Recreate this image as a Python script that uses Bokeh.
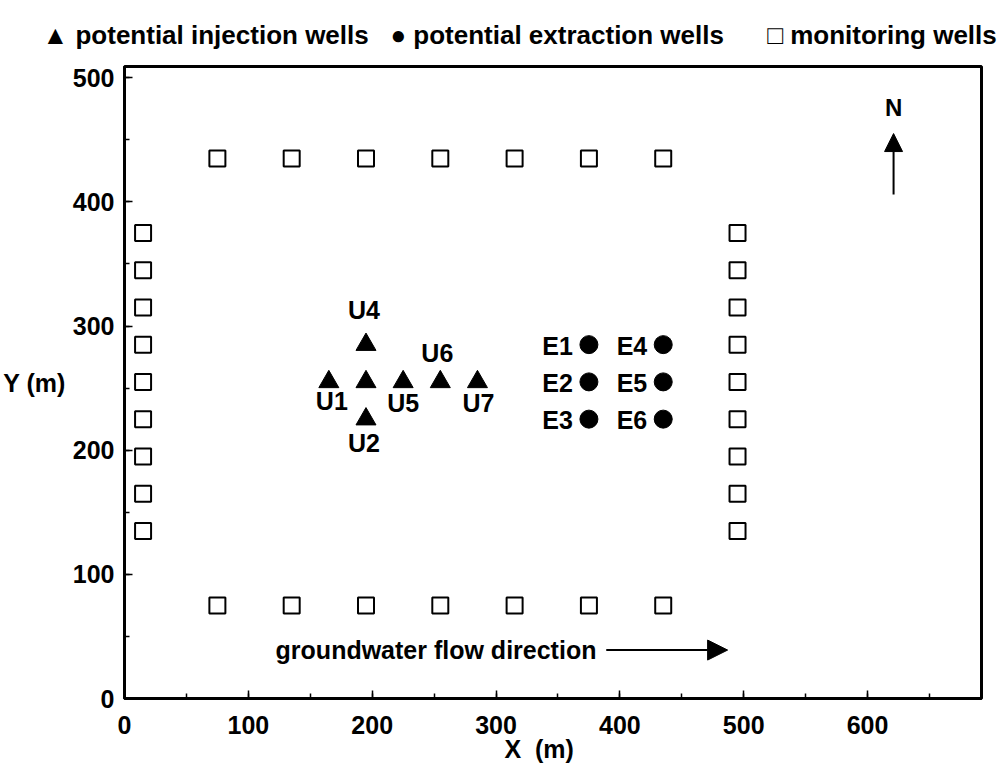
from bokeh.plotting import figure
from bokeh.models import (Range1d, SingleIntervalTicker, Label, Arrow, NormalHead,
                          ColumnDataSource)
from bokeh.embed import file_html
from bokeh.resources import INLINE
from bokeh.core.properties import value

# ---------------- data ----------------
# monitoring wells: two rows (north / south) and two columns (west / east)
mon_row_x = [75, 135, 195, 255, 315, 375, 435]
mon_row_y = [435, 75]
mon_col_x = [15, 495]
mon_col_y = [135, 165, 195, 225, 255, 285, 315, 345, 375]

# potential injection wells
inj_names = ["U1", "U2", "U3", "U4", "U5", "U6", "U7"]
inj_x = [165, 195, 195, 195, 225, 255, 285]
inj_y = [255, 225, 255, 285, 255, 255, 255]
inj_shown = ["U1", "U2", "", "U4", "U5", "U6", "U7"]

# potential extraction wells
ext_names = ["E1", "E2", "E3", "E4", "E5", "E6"]
ext_x = [375, 375, 375, 435, 435, 435]
ext_y = [285, 255, 225, 285, 255, 225]

x_ticks_interval = 100
y_ticks_interval = 100

NB = "\u00a0"
legend_text = ("\u25b2 potential injection wells" + NB * 2 + " \u25cf potential extraction wells"
               + NB * 5 + " \u25a1 monitoring wells")

# ---------------- styling (offsets in pixels) ----------------
inj_dx = [3, -2, 0, -2, 0, -3, 1]
inj_dy = [19, 24, 0, -35, 21, -29, 21]

FONT = "Liberation Sans"
FS = "25px"

mon_x = [x for y in mon_row_y for x in mon_row_x] + [x for x in mon_col_x for y in mon_col_y]
mon_y = [y for y in mon_row_y for x in mon_row_x] + [y for x in mon_col_x for y in mon_col_y]

p = figure(width=1005, height=770, output_backend="svg", toolbar_location=None,
           x_range=Range1d(0, 692), y_range=Range1d(0, 509),
           min_border_left=123, min_border_right=24, min_border_top=65, min_border_bottom=72)
p.xgrid.visible = False
p.ygrid.visible = False
p.outline_line_color = "black"
p.outline_line_width = 3
p.background_fill_color = "white"
p.border_fill_color = "white"

# legend line at the top (as title)
p.title.text = legend_text
p.title.align = "left"
p.title.offset = -82
p.title.text_font = FONT
p.title.text_font_style = "bold"
p.title.text_font_size = "26px"
p.title.text_color = "black"
p.title.standoff = 34

p.xaxis.ticker = SingleIntervalTicker(interval=x_ticks_interval, num_minor_ticks=2)
p.yaxis.ticker = SingleIntervalTicker(interval=y_ticks_interval, num_minor_ticks=2)
for ax in (p.xaxis[0], p.yaxis[0]):
    ax.axis_line_width = 3
    ax.axis_line_color = "black"
    ax.major_tick_in = 8
    ax.major_tick_out = 0
    ax.minor_tick_in = 5
    ax.minor_tick_out = 0
    ax.major_tick_line_width = 1.5
    ax.minor_tick_line_width = 1.5
    ax.major_tick_line_color = "black"
    ax.minor_tick_line_color = "black"
    ax.major_label_text_font = FONT
    ax.major_label_text_font_style = "bold"
    ax.major_label_text_font_size = FS
    ax.major_label_text_color = "black"
    ax.axis_label_text_font = FONT
    ax.axis_label_text_font_style = "bold"
    ax.axis_label_text_font_size = FS
    ax.axis_label_text_color = "black"
p.xaxis.major_label_standoff = 17
p.yaxis.major_label_standoff = 10
p.xaxis.axis_label = "X" + NB + " (m)" + NB * 4
p.xaxis.axis_label_standoff = -2
p.yaxis.axis_label = "Y (m)"
p.yaxis.axis_label_orientation = "horizontal"
p.yaxis.axis_label_standoff = 4

# monitoring wells
p.scatter(mon_x, mon_y, marker="square", size=16, fill_color="white",
          line_color="black", line_width=2)

# injection wells
inj_src = ColumnDataSource(dict(x=inj_x, y=inj_y, name=inj_names, shown=inj_shown,
                                dx=inj_dx, dy=inj_dy))
p.scatter("x", "y", source=inj_src, marker="triangle", size=20,
          fill_color="black", line_color="black")
p.text("x", "y", text="shown", source=inj_src, x_offset="dx", y_offset="dy",
       text_align="center", text_baseline="middle",
       text_font=value(FONT), text_font_style="bold", text_font_size=FS,
       text_color="black")

# extraction wells
ext_src = ColumnDataSource(dict(x=ext_x, y=ext_y, name=ext_names))
p.scatter("x", "y", source=ext_src, marker="circle", size=18,
          fill_color="black", line_color="black")
p.text("x", "y", text="name", source=ext_src, x_offset=-16, y_offset=1,
       text_align="right", text_baseline="middle",
       text_font=value(FONT), text_font_style="bold", text_font_size=FS,
       text_color="black")

# groundwater flow arrow
p.add_layout(Label(x=122, y=39, text="groundwater flow direction", text_align="left",
                   text_baseline="middle", text_font=FONT, text_font_style="bold",
                   text_font_size=FS, text_color="black"))
p.add_layout(Arrow(x_start=389, y_start=39, x_end=487, y_end=39, line_width=2,
                   line_color="black",
                   end=NormalHead(size=20, fill_color="black", line_color="black")))

# north arrow
p.add_layout(Arrow(x_start=621, y_start=406, x_end=621, y_end=455, line_width=2,
                   line_color="black",
                   end=NormalHead(size=18, fill_color="black", line_color="black")))
p.add_layout(Label(x=621, y=476, text="N", text_align="center", text_baseline="middle",
                   text_font=FONT, text_font_style="bold", text_font_size="24px",
                   text_color="black"))

open("out.html", "w").write(file_html(p, INLINE))
